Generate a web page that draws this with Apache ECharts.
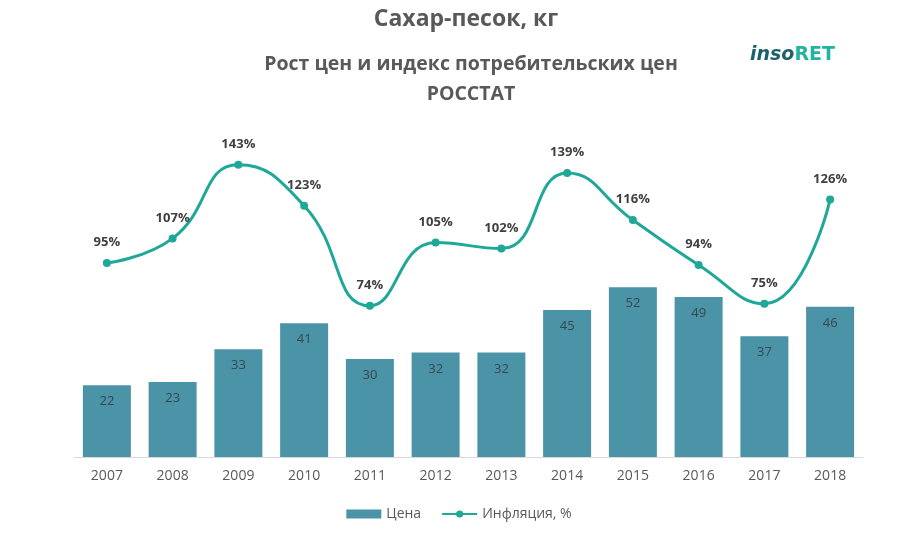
<!DOCTYPE html>
<html>
<head>
<meta charset="utf-8">
<script src="https://cdn.jsdelivr.net/npm/echarts@6/dist/echarts.min.js"></script>
<style>
  html, body { margin: 0; padding: 0; background: #fff; }
  #chart { width: 918px; height: 545px; }
</style>
</head>
<body>
<div id="chart"></div>
<script>
// данные с картинки
var years = ["2007", "2008", "2009", "2010", "2011", "2012", "2013", "2014", "2015", "2016", "2017", "2018"];
var prices = [22, 23, 33, 41, 30, 32, 32, 45, 52, 49, 37, 46];
var inflation = [95, 107, 143, 123, 74, 105, 102, 139, 116, 94, 75, 126];

var barColor = "#4b93a7";
var lineColor = "#1fa898";
var textColor = "#595959";

var myChart = echarts.init(document.getElementById("chart"));
var option = {
    backgroundColor: "#fff",
    textStyle: { fontFamily: "Open Sans" },
    title: [
        {
            text: "Сахар-песок, кг",
            left: 461, top: 3, textAlign: "center",
            textStyle: { fontSize: 23, fontWeight: "bold", color: textColor, fontFamily: "Open Sans" }
        },
        {
            text: "Рост цен и индекс потребительских цен\nРОССТАТ",
            left: 466, top: 44, textAlign: "center",
            textStyle: { fontSize: 19.5, fontWeight: "bold", color: textColor, lineHeight: 30, fontFamily: "Open Sans" }
        },
        {
            text: "{a|inso}{b|RET}",
            left: 745, top: 41,
            textStyle: {
                rich: {
                    a: { fontSize: 19, fontWeight: "bold", fontStyle: "italic", color: "#1d5f6c", fontFamily: "DejaVu Sans" },
                    b: { fontSize: 19, fontWeight: "bold", color: "#22b3a2", fontFamily: "DejaVu Sans" }
                }
            }
        }
    ],
    legend: {
        bottom: 19,
        left: "center",
        itemGap: 20,
        itemWidth: 35,
        itemHeight: 9,
        textStyle: { color: textColor, fontSize: 14 },
        data: [
            { name: "Цена", icon: "rect" },
            { name: "Инфляция, %" }
        ]
    },
    grid: { left: 74, right: 55, top: 124, bottom: 88 },
    xAxis: {
        type: "category",
        data: years,
        axisLine: { lineStyle: { color: "#d9d9d9" } },
        axisTick: { show: false },
        axisLabel: { color: textColor, fontSize: 14, margin: 12 }
    },
    yAxis: [
        { type: "value", min: 0, max: 102, show: false, splitLine: { show: false } },
        { type: "value", min: 0, max: 163, show: false, splitLine: { show: false } }
    ],
    series: [
        {
            name: "Цена",
            type: "bar",
            data: prices,
            barWidth: "73%",
            itemStyle: { color: barColor },
            label: {
                show: true,
                position: "insideTop",
                distance: 10,
                color: "#37474f",
                fontSize: 13
            }
        },
        {
            name: "Инфляция, %",
            type: "line",
            yAxisIndex: 1,
            data: inflation,
            smooth: 0.5,
            symbol: "circle",
            symbolSize: 8,
            lineStyle: { color: lineColor, width: 3 },
            itemStyle: { color: lineColor },
            label: {
                show: true,
                position: "top",
                distance: 10,
                formatter: "{c}%",
                color: "#404040",
                fontSize: 13,
                fontWeight: "bold"
            }
        }
    ]
};
myChart.setOption(option);
</script>
</body>
</html>
